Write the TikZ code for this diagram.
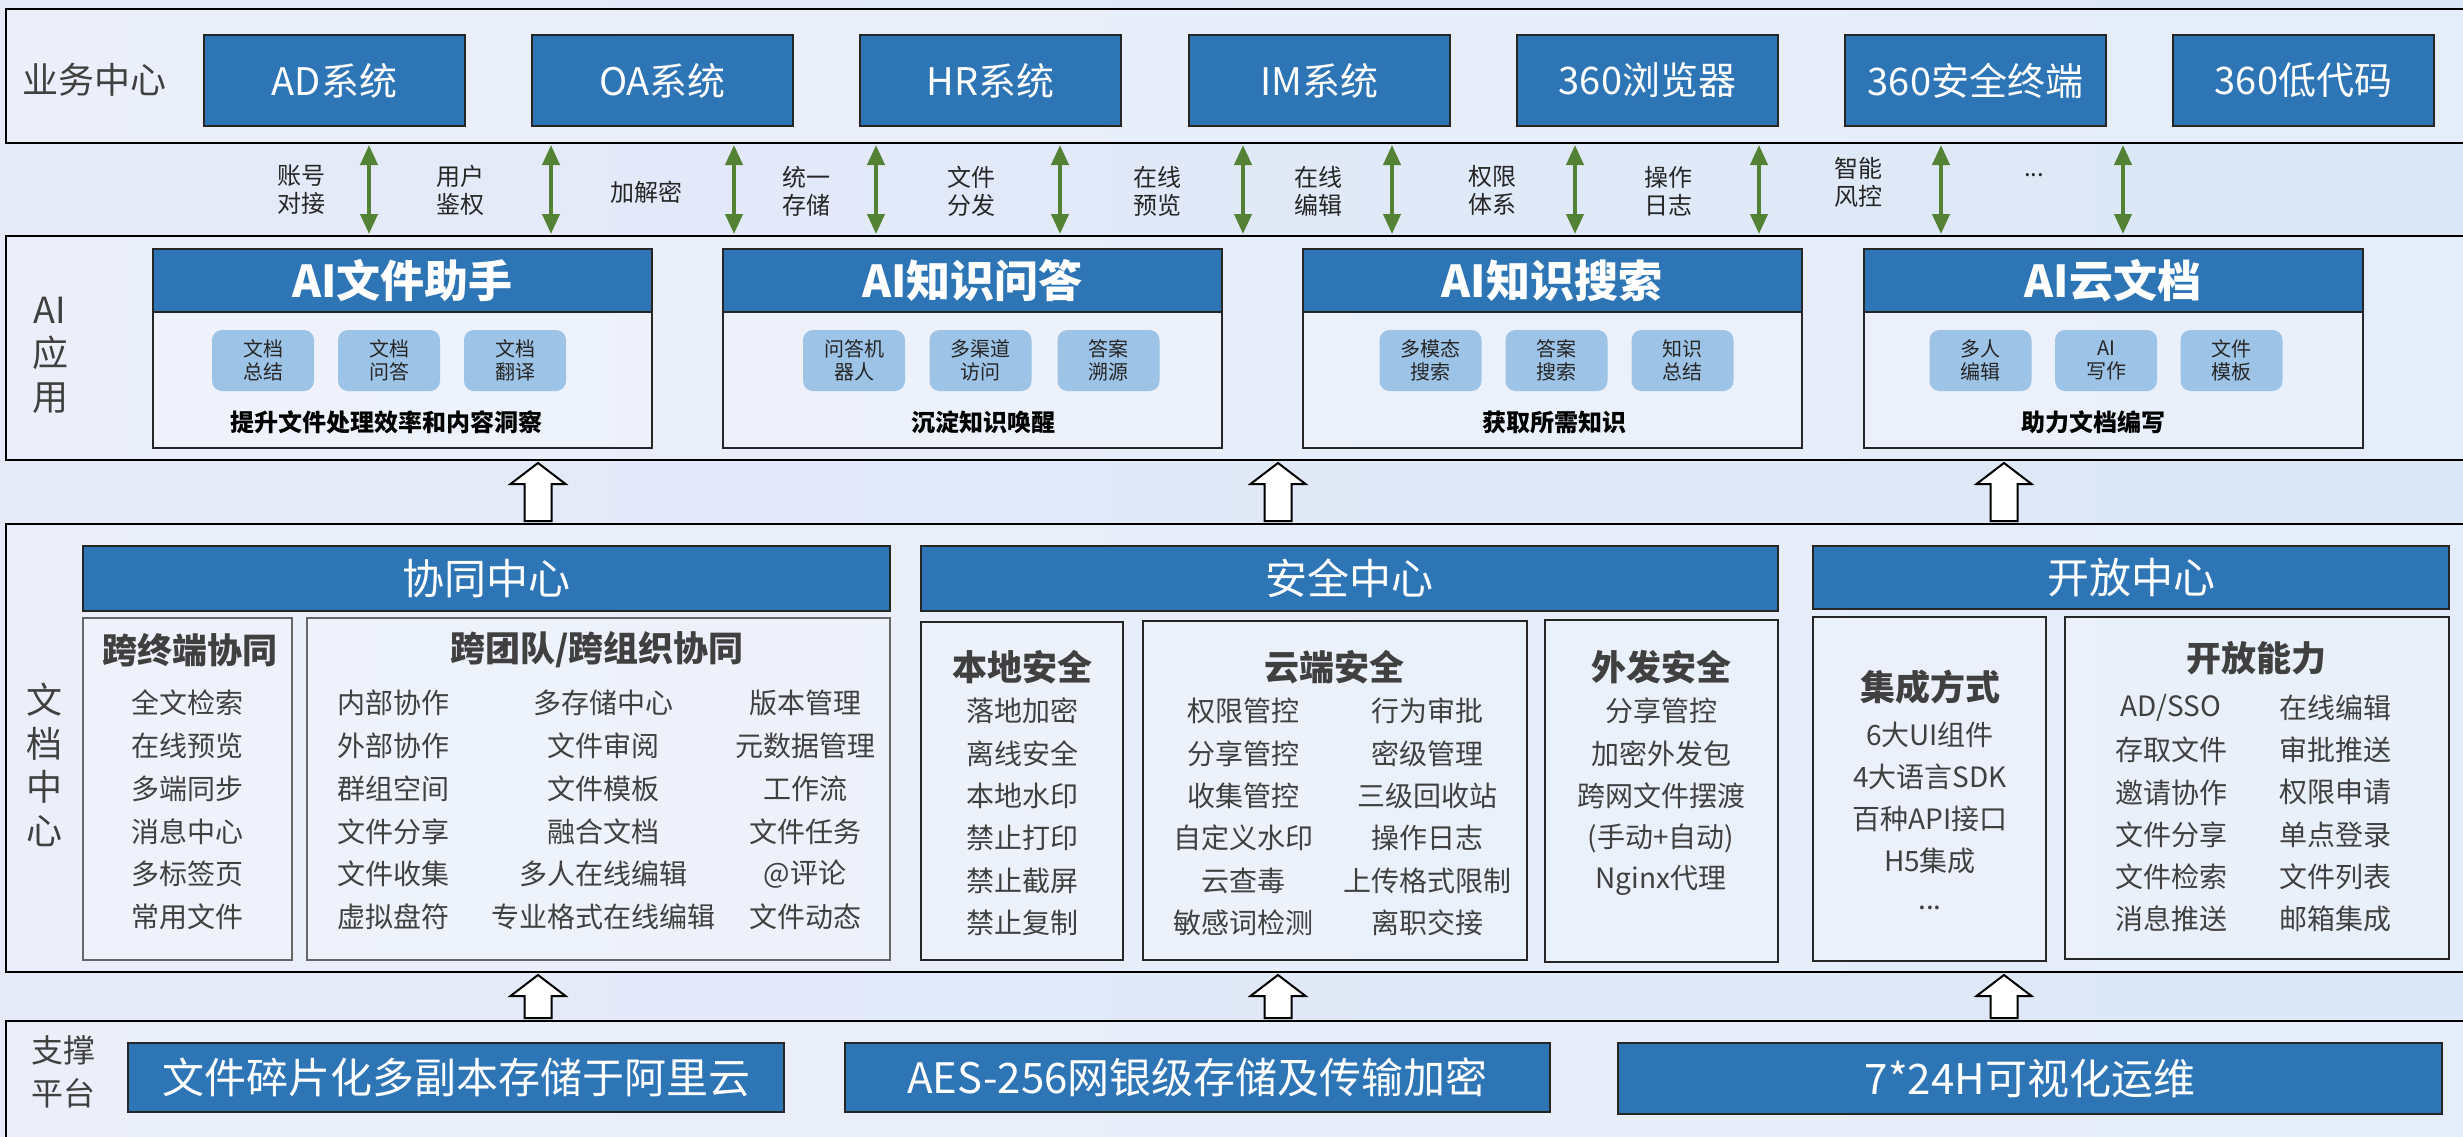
\documentclass[tikz,border=0pt]{standalone}
\usepackage{fontspec}
\setmainfont{Noto Sans CJK SC}
\usetikzlibrary{arrows.meta,calc}
\definecolor{myblue}{HTML}{2E75B6}
\definecolor{chipblue}{HTML}{9DC3E6}
\definecolor{agreen}{HTML}{548235}
\definecolor{bgL}{HTML}{E6EAF8}
\definecolor{bgR}{HTML}{DCE8F7}
\definecolor{txtgray}{HTML}{404040}
\newcommand\fsz[2]{\fontsize{#1}{#2}\selectfont}
\newcommand\hollowup[3]{%
  \draw[hollow] ($(#2.south -| #1)+(0,3)$) -- ++(27.5,21) -- ++(-14,0)
    -- ($(#3.north -| #1)+(13.5,-3)$) -- ++(-27,0)
    -- ($(#2.south -| #1)+(-13.5,24)$) -- ++(-14,0) -- cycle;}
\tikzset{
  box/.style 2 args={minimum width=#1, minimum height=#2, inner sep=0pt, outer sep=0pt},
  band/.style={draw=black, line width=2.5pt, fill=white, fill opacity=0.25, text opacity=1},
  bluebox/.style={draw=black!85, line width=2.5pt, fill=myblue, text=white},
  sysbox/.style={bluebox, font=\fsz{38}{44}},
  aibody/.style={draw=black!85, line width=2pt, fill=white, fill opacity=0.2},
  aihead/.style={bluebox, line width=2pt, font=\bfseries\fsz{44}{50}},
  chip/.style={fill=chipblue, rounded corners=10pt, text=black!85, align=center, font=\fsz{20}{23}},
  caption/.style={font=\bfseries\fsz{24}{28}, text=black, inner sep=0pt},
  lbl/.style={font=\fsz{24}{28}, text=black!85, align=center, inner sep=0pt},
  layerlbl/.style={font=\fsz{36}{43.5}, text=txtgray, align=center, inner sep=0pt},
  centerhead/.style={bluebox, font=\fsz{42}{48}},
  subgray/.style={draw=black!60, line width=1.8pt, fill=white, fill opacity=0.2},
  subdark/.style={draw=black!85, line width=2.5pt, fill=white, fill opacity=0.2},
  subtitle/.style={font=\bfseries\fsz{35}{40}, text=txtgray, inner sep=0pt},
  item/.style={font=\fsz{28}{32}, text=txtgray, inner sep=0pt},
  garrow/.style={draw=agreen, line width=4pt, {Triangle[width=17pt,length=20pt]}-{Triangle[width=17pt,length=20pt]}, shorten <=2pt, shorten >=2pt},
  hollow/.style={draw=black, line width=2pt, fill=white, line join=miter},
  supbox/.style={bluebox, font=\fsz{42}{48}},
}
\begin{document}
\begin{tikzpicture}[x=1pt,y=-1pt]
\useasboundingbox (0,0) rectangle (2463,1137);
\shade[left color=bgL, right color=bgR] (0,0) rectangle (2463,1137);

% ---------- bands ----------
\node[band, box={2470}{134}] (biz) at (1241,76) {};
\node[band, box={2470}{224}] (aiapp) at (1241,348) {};
\node[band, box={2470}{448}] (doc) at (1241,748) {};
\node[band, box={2470}{200}] (sup) at (1241,1121) {};

% ---------- layer 1 ----------
\node[layerlbl] (l1) at (94,80) {业务中心};
\node[sysbox, box={261}{91}] (ad) at (334.5,80.5) {AD系统};
\node[sysbox, box={261}{91}] (oa) at (662.5,80.5) {OA系统};
\node[sysbox, box={261}{91}] (hr) at (990.5,80.5) {HR系统};
\node[sysbox, box={261}{91}] (im) at (1319.5,80.5) {IM系统};
\node[sysbox, box={261}{91}] (br) at (1647.5,80.5) {360浏览器};
\node[sysbox, box={261}{91}] (se) at (1975.5,80.5) {360安全终端};
\node[sysbox, box={261}{91}] (lc) at (2303.5,80.5) {360低代码};

% green arrows
\foreach \x [count=\i] in {369,551,734,876,1060,1243,1392,1575,1759,1941,2123} {
  \coordinate (g\i) at (\x,0);
  \draw[garrow] (biz.south -| g\i) -- (aiapp.north -| g\i);
}
\node[lbl] (t1) at (301,190) {账号\\对接};
\node[lbl] (t2) at (460,190) {用户\\鉴权};
\node[lbl] (t3) at (646,192) {加解密};
\node[lbl] (t4) at (806,191) {统一\\存储};
\node[lbl] (t5) at (971,191) {文件\\分发};
\node[lbl] (t6) at (1157,191) {在线\\预览};
\node[lbl] (t7) at (1318,191) {在线\\编辑};
\node[lbl] (t8) at (1492,190) {权限\\体系};
\node[lbl] (t9) at (1668,191) {操作\\日志};
\node[lbl] (t10) at (1858,182) {智能\\风控};
\node[lbl, anchor=base] (t11) at (2034,176) {...};

% ---------- layer 2 ----------
\node[layerlbl] (l2) at (50,355) {AI\\应\\用};
\foreach \cx/\nm/\ttl in {402.5/a/AI文件助手, 972.5/b/AI知识问答, 1552/c/AI知识搜索, 2113/d/AI云文档} {
  \node[aibody, box={499}{199}] (body\nm) at (\cx,348.5) {};
  \node[aihead, box={499}{63}] (head\nm) at (\cx,280.5) {\ttl};
}
\foreach \cx/\t [count=\i] in {263/文档\\总结, 389/文档\\问答, 515/文档\\翻译,
    854/问答机\\器人, 980.5/多渠道\\访问, 1108.5/答案\\溯源,
    1430.5/多模态\\搜索, 1556.5/答案\\搜索, 1682.5/知识\\总结,
    1980.5/多人\\编辑, 2106/AI\\写作, 2231.5/文件\\模板} {
  \node[chip, box={102}{61}] (chip\i) at (\cx,360.5) {\t};
}
\node[caption] (capa) at (386,422) {提升文件处理效率和内容洞察};
\node[caption] (capb) at (983,422) {沉淀知识唤醒};
\node[caption] (capc) at (1554,422) {获取所需知识};
\node[caption] (capd) at (2093,422) {助力文档编写};

% hollow arrows 2-3
\coordinate (h1) at (538,0);
\coordinate (h2) at (1278,0);
\coordinate (h3) at (2004,0);
\hollowup{h1}{aiapp}{doc}
\hollowup{h2}{aiapp}{doc}
\hollowup{h3}{aiapp}{doc}

% ---------- layer 3 ----------
\node[layerlbl] (l3) at (44,765) {文\\档\\中\\心};
\node[centerhead, box={807}{65}] (xt) at (486.5,578.5) {协同中心};
\node[centerhead, box={857}{65}] (aq) at (1349.5,578.5) {安全中心};
\node[centerhead, box={636}{63}] (kf) at (2131,577.5) {开放中心};

\node[subgray, box={209}{342}] (kzd) at (187.5,789) {};
\node[subgray, box={583}{342}] (ktd) at (598.5,789) {};
\node[subdark, box={202}{338}] (bd) at (1022,791) {};
\node[subdark, box={384}{339}] (yd) at (1335,790.5) {};
\node[subdark, box={233}{342}] (wf) at (1661.5,791) {};
\node[subdark, box={233}{344}] (jc) at (1929.5,789) {};
\node[subdark, box={384}{342}] (kn) at (2257,788) {};

\node[subtitle] (s1) at (190,650) {跨终端协同};
\node[subtitle] (s2) at (597,650) {跨团队/跨组织协同};
\node[subtitle] (s3) at (1022,667) {本地安全};
\node[subtitle] (s4) at (1334,667) {云端安全};
\node[subtitle] (s5) at (1661,667) {外发安全};
\node[subtitle] (s6) at (1930,687) {集成方式};
\node[subtitle] (s7) at (2256,658) {开放能力};

\foreach \t [count=\i from 0] in {全文检索,在线预览,多端同步,消息中心,多标签页,常用文件}
  \node[item] (kz\i) at (187,{703+42.8*\i}) {\t};
\foreach \t [count=\i from 0] in {内部协作,外部协作,群组空间,文件分享,文件收集,虚拟盘符}
  \node[item] (ta\i) at (393,{703+42.8*\i}) {\t};
\foreach \t [count=\i from 0] in {多存储中心,文件审阅,文件模板,融合文档,多人在线编辑,专业格式在线编辑}
  \node[item] (tb\i) at (603,{703+42.8*\i}) {\t};
\foreach \t [count=\i from 0] in {版本管理,元数据管理,工作流,文件任务,@评论,文件动态}
  \node[item] (tc\i) at (805,{703+42.8*\i}) {\t};

\foreach \t [count=\i from 0] in {落地加密,离线安全,本地水印,禁止打印,禁止截屏,禁止复制}
  \node[item] (bd\i) at (1022,{711+42.4*\i}) {\t};
\foreach \t [count=\i from 0] in {权限管控,分享管控,收集管控,自定义水印,云查毒,敏感词检测}
  \node[item] (ya\i) at (1243,{711+42.4*\i}) {\t};
\foreach \t [count=\i from 0] in {行为审批,密级管理,三级回收站,操作日志,上传格式限制,离职交接}
  \node[item] (yb\i) at (1427,{711+42.4*\i}) {\t};
\foreach \t [count=\i from 0] in {分享管控,加密外发包,跨网文件摆渡,(手动+自动),Nginx代理}
  \node[item] (wf\i) at (1661,{711+42.4*\i}) {\t};

\foreach \t [count=\i from 0] in {6大UI组件,4大语言SDK,百种API接口,H5集成}
  \node[item] (jc\i) at (1930,{735+42*\i}) {\t};
\node[item, anchor=base] (jc4) at (1930,909) {...};
\foreach \t [count=\i from 0] in {AD/SSO,存取文件,邀请协作,文件分享,文件检索,消息推送}
  \node[item] (ka\i) at (2171,{708+42.2*\i}) {\t};
\foreach \t [count=\i from 0] in {在线编辑,审批推送,权限申请,单点登录,文件列表,邮箱集成}
  \node[item] (kb\i) at (2335,{708+42.2*\i}) {\t};

% hollow arrows 3-4
\hollowup{h1}{doc}{sup}
\hollowup{h2}{doc}{sup}
\hollowup{h3}{doc}{sup}

% ---------- layer 4 ----------
\node[layerlbl, font=\fsz{32}{43}] (l4) at (63,1072) {支撑\\平台};
\node[supbox, box={656}{69}] (p1) at (456,1077.5) {文件碎片化多副本存储于阿里云};
\node[supbox, box={705}{69}] (p2) at (1197.5,1077.5) {AES-256网银级存储及传输加密};
\node[supbox, box={824}{71}] (p3) at (2030,1078.5) {7*24H可视化运维};
\end{tikzpicture}
\end{document}
